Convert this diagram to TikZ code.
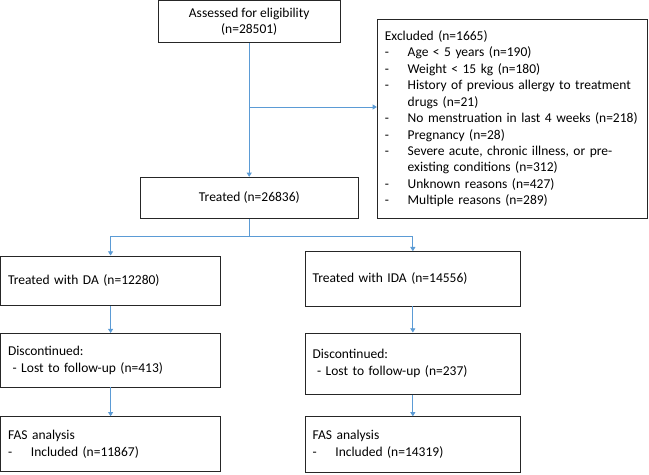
\documentclass[tikz,border=0pt]{standalone}
\usepackage{fontspec}
\setmainfont{Carlito}
\usetikzlibrary{arrows.meta}

\definecolor{flowblue}{RGB}{91,155,213}
\newcommand{\exitem}{\makebox[0.57cm][l]{-}}
\newcommand{\exindent}{\hspace*{0.57cm}}

\tikzset{
  boxc/.style={draw=black!85, line width=0.7pt, inner xsep=0.19cm, inner ysep=0pt, align=center,
    font=\fontsize{9.6}{11.7}\selectfont},
  boxl/.style={boxc, align=left},
  flowline/.style={draw=flowblue, line width=0.6pt},
  flowarrow/.style={flowline, -{Triangle[length=3pt,width=3.6pt]}}
}

\begin{document}
\begin{tikzpicture}

\useasboundingbox (0,0) rectangle (16.225,-11.85);

\node[boxc, minimum width=4.54cm, minimum height=1.055cm] (assess) at (6.23,-0.54) {Assessed for eligibility\\(n=28501)};
\node[boxl, text width=6.375cm, minimum height=4.975cm] (excl) at (12.81,-2.97) {Excluded (n=1665)\\
\exitem Age < 5 years (n=190)\\
\exitem Weight < 15 kg (n=180)\\
\exitem History of previous allergy to treatment\\
\exindent drugs (n=21)\\
\exitem No menstruation in last 4 weeks (n=218)\\
\exitem Pregnancy (n=28)\\
\exitem Severe acute, chronic illness, or pre-\\
\exindent existing conditions (n=312)\\
\exitem Unknown reasons (n=427)\\
\exitem Multiple reasons (n=289)};
\node[boxc, minimum width=5.4675cm, minimum height=1.025cm] (treat) at (6.234,-4.945) {Treated (n=26836)};

\node[boxl, text width=5.125cm, minimum height=1.2375cm] (da) at (2.765,-7.019) {Treated with DA (n=12280)};
\node[boxl, text width=5.0125cm, minimum height=1.3575cm] (ida) at (10.321,-6.971) {Treated with IDA (n=14556)};

\node[boxl, text width=5.125cm, minimum height=1.3375cm] (discl) at (2.765,-9.006) {Discontinued:\\\ - Lost to follow-up (n=413)};
\node[boxl, text width=5.0125cm, minimum height=1.525cm] (discr) at (10.321,-9.0875) {Discontinued:\\\ - Lost to follow-up (n=237)};

\node[boxl, text width=5.125cm, minimum height=1.375cm] (fasl) at (2.765,-11.105) {FAS analysis\\\exitem Included (n=11867)};
\node[boxl, text width=5.0125cm, minimum height=1.38cm] (fasr) at (10.321,-11.11) {FAS analysis\\\exitem Included (n=14319)};

% top part
\coordinate (split) at (6.23,-2.675);
\draw[flowarrow] (assess.south) -- (assess.south |- treat.north);
\draw[flowarrow] (split) -- (split -| excl.west);

% two arms
\coordinate (fork) at (6.234,-5.9175);
\draw[flowline] (treat.south) -- (fork);
\draw[flowarrow] (fork) -| (da.north);
\draw[flowarrow] (fork) -| (ida.north);

\draw[flowarrow] (da.south) -- (discl.north);
\draw[flowarrow] (discl.south) -- (fasl.north);
\draw[flowarrow] (ida.south) -- (discr.north);
\draw[flowarrow] (discr.south) -- (fasr.north);

\end{tikzpicture}
\end{document}
